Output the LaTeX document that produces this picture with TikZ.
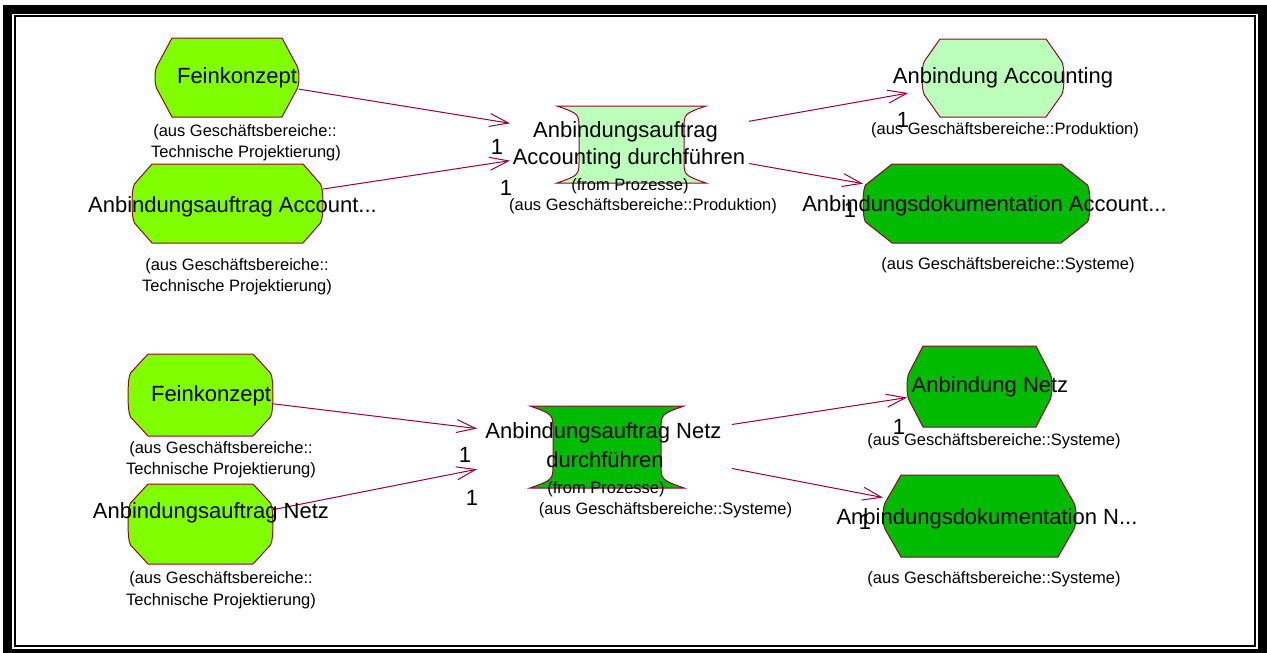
\documentclass[tikz,border=0pt]{standalone}
\usepackage{fontspec}
\setmainfont{Liberation Sans}
\usetikzlibrary{arrows.meta,calc}

\definecolor{limegreen}{RGB}{128,255,0}
\definecolor{palegreen}{RGB}{187,255,187}
\definecolor{darkgreen}{RGB}{0,187,0}
\definecolor{edgered}{RGB}{153,0,51}

% object state outline: flat top/bottom, cut corners, slightly bulging sides
% #1 node, #2 horizontal corner cut, #3 vertical corner cut, #4 fill
\newcommand\objoutline[4]{%
  \path[draw=edgered, line width=1pt, fill=#4]
    let \p1=(#1.north west), \p2=(#1.south east) in
    (\x1+#2pt,\y1) -- (\x2-#2pt,\y1) -- (\x2-2.5pt,\y1-#3pt)
    .. controls (\x2+0.8pt,\y1-#3pt-5pt) and (\x2+0.8pt,\y2+#3pt+5pt) .. (\x2-2.5pt,\y2+#3pt)
    -- (\x2-#2pt,\y2) -- (\x1+#2pt,\y2) -- (\x1+2.5pt,\y2+#3pt)
    .. controls (\x1-0.8pt,\y2+#3pt+5pt) and (\x1-0.8pt,\y1-#3pt-5pt) .. (\x1+2.5pt,\y1-#3pt)
    -- cycle;
}
% activity outline with concave left and right sides
% #1 node, #2 inward depth, #3 fill
\newcommand\actoutline[3]{%
  \path[draw=edgered, line width=1pt, fill=#3]
    let \p1=(#1.north west), \p2=(#1.south east), \n1={\y1-\y2} in
    (\x1,\y1) -- (\x2,\y1)
    .. controls (\x2-#2pt,\y1-0.1*\n1) .. (\x2-#2pt,\y1-0.3*\n1)
    -- (\x2-#2pt,\y2+0.3*\n1)
    .. controls (\x2-#2pt,\y2+0.1*\n1) .. (\x2,\y2)
    -- (\x1,\y2)
    .. controls (\x1+#2pt,\y2+0.1*\n1) .. (\x1+#2pt,\y2+0.3*\n1)
    -- (\x1+#2pt,\y1-0.3*\n1)
    .. controls (\x1+#2pt,\y1-0.1*\n1) .. (\x1,\y1) -- cycle;
}

\begin{document}
\begin{tikzpicture}[x=1pt,y=-1pt,
  box/.style={rectangle, inner sep=0pt, outer sep=0pt, draw=none},
  flow/.style={draw=edgered, line width=1pt, -{Straight Barb[length=19pt,width=13pt]}},
  bigtxt/.style={font=\fontsize{22}{26}\selectfont, inner sep=0pt, text height=15.75pt, text depth=0pt},
  smalltxt/.style={font=\fontsize{16.5}{20}\selectfont, inner sep=0pt, text height=11.8pt, text depth=0pt},
]
\useasboundingbox (0,0) rectangle (1267,653);
\fill[white] (0,0) rectangle (1267,653);

% frame
\fill[black] (3,5) rectangle (1267,653);
\fill[white] (12,14) rectangle (1258,649);
\draw[black, line width=2pt] (15,16) rectangle (1255,646);

% ---------- shape boxes ----------
\node[box, minimum width=144pt, minimum height=79pt] (f1) at (227,77.5) {};
\node[box, minimum width=191pt, minimum height=79pt] (a1) at (227.5,203.5) {};
\node[box, minimum width=149pt, minimum height=77pt] (c1) at (631.5,144.5) {};
\node[box, minimum width=239pt, minimum height=77pt] (c1t) at (629.5,142.5) {};
\node[box, minimum width=142pt, minimum height=78pt] (aa) at (993,78) {};
\node[box, minimum width=227pt, minimum height=79pt] (ad) at (976.5,203.5) {};

\node[box, minimum width=145pt, minimum height=82pt] (f2) at (200.5,395) {};
\node[box, minimum width=145pt, minimum height=80pt] (a2) at (200.5,524) {};
\node[box, minimum width=154pt, minimum height=82pt] (c2) at (607,447) {};
\node[box, minimum width=255pt, minimum height=82pt] (c2t) at (604.5,444) {};
\node[box, minimum width=145pt, minimum height=81pt] (an) at (979.5,386.5) {};
\node[box, minimum width=193pt, minimum height=82pt] (an2) at (979.5,516) {};

% ---------- outlines ----------
\objoutline{f1}{17}{27}{limegreen}
\objoutline{a1}{20}{20}{limegreen}
\actoutline{c1}{22}{palegreen}
\objoutline{aa}{18}{22}{palegreen}
\objoutline{ad}{29}{21}{darkgreen}

\objoutline{f2}{20}{19}{limegreen}
\objoutline{a2}{20}{19}{limegreen}
\actoutline{c2}{23}{darkgreen}
\objoutline{an}{16}{26}{darkgreen}
\objoutline{an2}{18}{27}{darkgreen}

% ---------- object flows ----------
\draw[flow] (f1) -- (c1t);
\draw[flow] (a1) -- (c1t);
\draw[flow, shorten >=14pt] (c1t) -- (aa);
\draw[flow] (c1t) -- (ad);

\draw[flow] (f2) -- (c2t);
\draw[flow] (a2) -- (c2t);
\draw[flow] (c2t) -- (an);
\draw[flow] (c2t) -- (an2);

% ---------- labels ----------
\node[bigtxt] (f1n) at (237,76) {Feinkonzept};
\node[smalltxt] (f1s1) at (245,131) {(aus Geschäftsbereiche::};
\node[smalltxt] (f1s2) at (246,152) {Technische Projektierung)};

\node[bigtxt] (a1n) at (232.5,204.5) {Anbindungsauftrag Account...};
\node[smalltxt] (a1s1) at (237,265) {(aus Geschäftsbereiche::};
\node[smalltxt] (a1s2) at (237,285.5) {Technische Projektierung)};

\node[bigtxt] (c1n1) at (625.5,130) {Anbindungsauftrag};
\node[bigtxt] (c1n2) at (629,157) {Accounting durchführen};
\node[smalltxt] (c1s1) at (630,185) {(from Prozesse)};
\node[smalltxt] (c1s2) at (643,204.5) {(aus Geschäftsbereiche::Produktion)};

\node[bigtxt] (aan) at (1003,76) {Anbindung Accounting};
\node[smalltxt] (aas) at (1005,129) {(aus Geschäftsbereiche::Produktion)};

\node[bigtxt] (adn) at (984.5,204) {Anbindungsdokumentation Account...};
\node[smalltxt] (ads) at (1008,264) {(aus Geschäftsbereiche::Systeme)};

\node[bigtxt] (f2n) at (211,394) {Feinkonzept};
\node[smalltxt] (f2s1) at (221,447.5) {(aus Geschäftsbereiche::};
\node[smalltxt] (f2s2) at (221,469) {Technische Projektierung)};

\node[bigtxt] (a2n) at (211,510.5) {Anbindungsauftrag Netz};
\node[smalltxt] (a2s1) at (221,578) {(aus Geschäftsbereiche::};
\node[smalltxt] (a2s2) at (221,600) {Technische Projektierung)};

\node[bigtxt] (c2n1) at (603.5,430.5) {Anbindungsauftrag Netz};
\node[bigtxt] (c2n2) at (605,459.5) {durchführen};
\node[smalltxt] (c2s1) at (606,488) {(from Prozesse)};
\node[smalltxt] (c2s2) at (665.5,509) {(aus Geschäftsbereiche::Systeme)};

\node[bigtxt] (ann) at (990,385) {Anbindung Netz};
\node[smalltxt] (ans) at (994,440) {(aus Geschäftsbereiche::Systeme)};

\node[bigtxt] (an2n) at (987,516.5) {Anbindungsdokumentation N...};
\node[smalltxt] (an2s) at (994,577.5) {(aus Geschäftsbereiche::Systeme)};

% ---------- multiplicities ----------
\node[bigtxt] (m1) at (497,147) {1};
\node[bigtxt] (m2) at (506,188) {1};
\node[bigtxt] (m3) at (903,120) {1};
\node[bigtxt] (m4) at (850,210) {1};
\node[bigtxt] (m5) at (465,455) {1};
\node[bigtxt] (m6) at (472,498) {1};
\node[bigtxt] (m7) at (899,427) {1};
\node[bigtxt] (m8) at (865,522) {1};
\end{tikzpicture}
\end{document}
